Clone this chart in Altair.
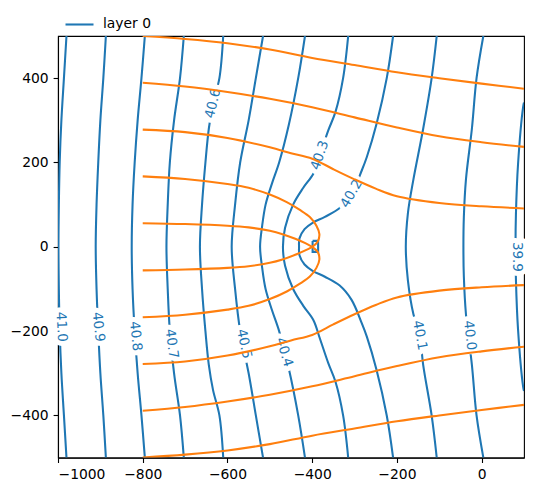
import altair as alt
import pandas as pd

X_TICKS = [-1000, -800, -600, -400, -200, 0]
Y_TICKS = [-400, -200, 0, 200, 400]

# ---- head contours (blue), top to bottom ----
C41_0 = [(-980, 500), (-986, 400), (-992, 300), (-996, 200), (-998, 100), (-999, 0),
         (-998, -100), (-996, -200), (-992, -300), (-986, -400), (-980, -500)]
C40_9 = [(-887, 500), (-893, 400), (-900, 300), (-905, 200), (-909, 100), (-911, 0),
         (-909, -100), (-905, -200), (-900, -300), (-893, -400), (-887, -500)]
C40_8 = [(-795, 500), (-803, 400), (-812, 300), (-819, 200), (-824, 100), (-826, 0),
         (-824, -100), (-819, -200), (-812, -300), (-803, -400), (-795, -500)]
C40_7 = [(-703, 500), (-712, 400), (-726, 300), (-736, 200), (-741, 100), (-744, 0),
         (-741, -100), (-736, -200), (-726, -300), (-712, -400), (-703, -500)]
C40_6 = [(-610, 500), (-619, 400), (-634, 340), (-644, 280), (-652, 200), (-660, 100),
         (-665, 0), (-660, -100), (-652, -200), (-644, -280), (-634, -340),
         (-619, -400), (-610, -500)]
C40_5 = [(-516, 500), (-533, 400), (-550, 300), (-570, 200), (-582, 100), (-590, 0),
         (-582, -100), (-570, -200), (-550, -300), (-533, -400), (-516, -500)]
C40_4 = [(-417, 500), (-433, 400), (-455, 290), (-478, 200), (-495, 150), (-510, 100),
         (-518, 50), (-523, 0), (-518, -50), (-510, -100), (-495, -150), (-478, -200),
         (-455, -290), (-433, -400), (-417, -500)]
C40_3 = [(-315, 500), (-327, 400), (-345, 320), (-362, 276), (-382, 217), (-397, 174),
         (-421, 140), (-445, 100), (-464, 45), (-469, 0), (-464, -45), (-445, -100),
         (-421, -140), (-397, -174), (-382, -217), (-362, -276), (-345, -320),
         (-327, -400), (-315, -500)]
C40_2 = [(-209, 500), (-224, 400), (-248, 292), (-271, 213), (-283, 181), (-307, 126),
         (-335, 92), (-370, 71), (-399, 57), (-418, 42), (-430, 20), (-431, 0),
         (-430, -20), (-418, -42), (-399, -57), (-370, -71), (-335, -92), (-307, -126),
         (-283, -181), (-271, -213), (-248, -292), (-224, -400), (-209, -500)]
C40_1 = [(-106, 500), (-118, 400), (-138, 280), (-161, 160), (-174, 80), (-179, 0),
         (-174, -80), (-161, -160), (-146, -210), (-138, -280), (-118, -400), (-106, -500)]
C40_0 = [(4, 500), (-12, 400), (-23, 280), (-37, 160), (-42, 70), (-43, 0),
         (-42, -70), (-37, -160), (-23, -280), (-12, -400), (4, -500)]
C39_9 = [(100, 342), (98, 332), (86, 197), (81, 79), (80, 0), (81, -79), (86, -197),
         (98, -332), (100, -342)]
C_WELL = [(-399, 14), (-386, 14), (-386, -12), (-399, -12), (-399, 14)]

CONTOURS = [("41.0", C41_0), ("40.9", C40_9), ("40.8", C40_8), ("40.7", C40_7),
            ("40.6", C40_6), ("40.5", C40_5), ("40.4", C40_4), ("40.3", C40_3),
            ("40.2", C40_2), ("40.1", C40_1), ("40.0", C40_0), ("39.9", C39_9)]

# ---- contour labels ----
LABEL_TEXT = ["41.0", "40.9", "40.8", "40.7", "40.6", "40.5", "40.4", "40.3", "40.2",
              "40.1", "40.0", "39.9"]
LABEL_X = [-992, -905, -817, -732, -634, -561, -466, -382, -307, -146, -28, 83]
LABEL_Y = [-190, -190, -212, -230, 340, -230, -250, 217, 126, -210, -210, -24]
LABEL_ANGLE = [87, 84, 84, 82, 283, 78, 73, 289, 300, 79, 83, 90]

# ---- path lines (orange) ----
P1 = [(-800, 500), (-700, 493), (-600, 483), (-500, 468), (-400, 448), (-300, 431),
      (-200, 414), (-100, 400), (0, 387), (100, 375)]
P2 = [(-800, 389), (-700, 380), (-600, 367), (-500, 351), (-400, 331), (-300, 307),
      (-200, 283), (-100, 262), (0, 248), (100, 237)]
P3 = [(-800, 278), (-700, 272), (-600, 258), (-500, 236), (-450, 222), (-400, 209),
      (-350, 184), (-300, 160), (-250, 138), (-200, 120), (-100, 104), (0, 96), (100, 91)]
P4 = [(-800, 167), (-700, 161), (-600, 149), (-550, 140), (-500, 124), (-460, 106),
      (-430, 88), (-405, 70), (-390, 50), (-383, 30), (-387, 12), (-400, 0)]
P5 = [(-800, 56), (-700, 54), (-600, 50), (-550, 46), (-500, 38), (-470, 30),
      (-440, 19), (-415, 8), (-400, 0)]
P6 = [(-800, -56), (-700, -54), (-600, -50), (-550, -46), (-500, -38), (-470, -30),
      (-440, -19), (-415, -8), (-400, 0)]
P7 = [(-800, -167), (-700, -161), (-600, -149), (-550, -140), (-500, -124), (-460, -106),
      (-430, -88), (-405, -70), (-390, -50), (-383, -30), (-387, -12), (-400, 0)]
P8 = [(-800, -278), (-700, -272), (-600, -258), (-500, -236), (-450, -222), (-400, -209),
      (-350, -184), (-300, -160), (-250, -138), (-200, -120), (-100, -104), (0, -96),
      (100, -91)]
P9 = [(-800, -389), (-700, -380), (-600, -367), (-500, -351), (-400, -331), (-300, -307),
      (-200, -283), (-100, -262), (0, -248), (100, -237)]
P10 = [(-800, -500), (-700, -493), (-600, -483), (-500, -468), (-400, -448), (-300, -431),
       (-200, -414), (-100, -400), (0, -387), (100, -375)]
PATHS = [P1, P2, P3, P4, P5, P6, P7, P8, P9, P10]

BLUE = "#1f77b4"
ORANGE = "#ff7f0e"
FONT = "DejaVu Sans"

rows = []
for cid, pts in CONTOURS:
    for i, (x, y) in enumerate(pts):
        rows.append({"cid": cid, "i": i, "x": x, "y": y, "layer": "layer 0"})
df_c = pd.DataFrame(rows)

df_w = pd.DataFrame({"i": list(range(len(C_WELL))),
                     "x": [p[0] for p in C_WELL], "y": [p[1] for p in C_WELL]})

rows = []
for k, pts in enumerate(PATHS):
    for i, (x, y) in enumerate(pts):
        rows.append({"pid": k, "i": i, "x": x, "y": y})
df_p = pd.DataFrame(rows)

df_l = pd.DataFrame({"text": LABEL_TEXT, "x": LABEL_X, "y": LABEL_Y, "angle": LABEL_ANGLE})

xs = alt.Scale(domain=[-1000, 100], nice=False, zero=False)
ys = alt.Scale(domain=[-500, 500], nice=False, zero=False)

axis_common = dict(title=None, grid=False, labelFont=FONT, labelFontSize=13.9,
                   labelColor="black", tickColor="black", domainColor="black",
                   tickSize=4.9, tickWidth=1.1, domainWidth=1.1, labelPadding=4.9,
                   format="d")
X = alt.X("x:Q", scale=xs, axis=alt.Axis(values=X_TICKS, **axis_common))
Y = alt.Y("y:Q", scale=ys, axis=alt.Axis(values=Y_TICKS, **axis_common))
Xn = alt.X("x:Q", scale=xs)
Yn = alt.Y("y:Q", scale=ys)

blue = alt.Chart(df_c).mark_line(strokeWidth=2.08, clip=True,
                                 interpolate="catmull-rom").encode(
    x=X, y=Y,
    color=alt.Color("layer:N",
                    scale=alt.Scale(domain=["layer 0"], range=[BLUE]),
                    legend=alt.Legend(title=None, orient="none", legendX=6, legendY=-27,
                                      symbolType="stroke", symbolSize=784,
                                      symbolStrokeWidth=2.08, labelFont=FONT,
                                      labelFontSize=13.9, labelColor="black",
                                      labelOffset=8, padding=0)),
    detail="cid:N",
    order="i:Q",
)

well = alt.Chart(df_w).mark_line(strokeWidth=2.08, clip=True, color=BLUE).encode(
    x=Xn, y=Yn, order="i:Q")

halo = alt.Chart(df_l).mark_text(font=FONT, fontSize=13.5, align="center",
                                 baseline="middle", fill="white", stroke="white",
                                 strokeWidth=10, strokeJoin="round").encode(
    x=Xn, y=Yn, text="text:N", angle=alt.Angle("angle:Q", scale=None))

labels = alt.Chart(df_l).mark_text(font=FONT, fontSize=13.5, align="center",
                                   baseline="middle", color=BLUE).encode(
    x=Xn, y=Yn, text="text:N", angle=alt.Angle("angle:Q", scale=None))

orange = alt.Chart(df_p).mark_line(strokeWidth=2.08, clip=True, color=ORANGE,
                                   interpolate="catmull-rom").encode(
    x=Xn, y=Yn, detail="pid:N", order="i:Q")

chart = alt.layer(blue, well, halo, labels, orange).properties(
    width=466, height=421.6,
    padding={"left": 58, "top": 36, "right": 9, "bottom": 33},
    autosize=alt.AutoSizeParams(type="none"),
    background="white",
).configure_view(stroke="black", strokeWidth=1.1)

chart.save("out.html", embed_options={"renderer": "svg", "actions": False})
